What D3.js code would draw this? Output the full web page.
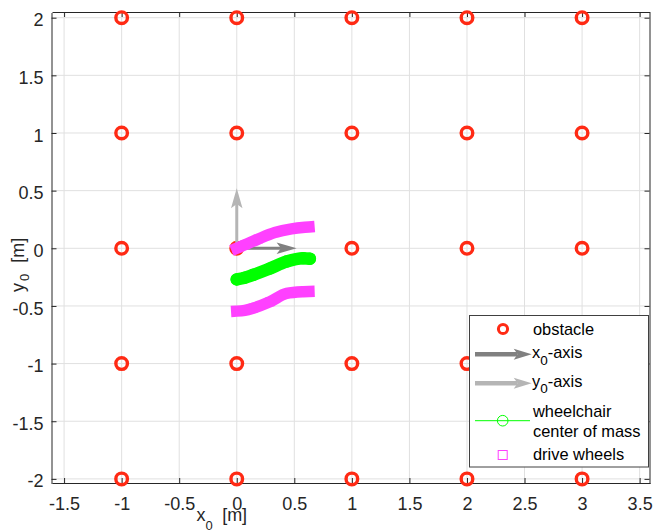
<!DOCTYPE html>
<html>
<head>
<meta charset="utf-8">
<script src="https://cdn.jsdelivr.net/npm/d3@7"></script>
<style>
body { margin: 0; background: #fff; }
text { font-family: "Liberation Sans", Arial, Helvetica, sans-serif; }
</style>
</head>
<body>
<div id="chart"></div>
<script>
// obstacle grid (every x with every y)
var obstacleX = [-1, 0, 1, 2, 3];
var obstacleY = [-2, -1, 0, 1, 2];

// wheelchair centre of mass path [m]
var comX = [0, 0.07, 0.143, 0.288, 0.433, 0.577, 0.635];
var comY = [-0.27, -0.255, -0.23, -0.175, -0.115, -0.087, -0.09];

// drive wheel paths [m]
var upperX = [0, 0.07, 0.186, 0.331, 0.476, 0.592, 0.627];
var upperY = [0.0, 0.03, 0.08, 0.136, 0.168, 0.182, 0.185];
var lowerX = [0, 0.07, 0.143, 0.288, 0.433, 0.577, 0.627];
var lowerY = [-0.545, -0.538, -0.519, -0.464, -0.392, -0.377, -0.375];

// body frame axes drawn at the origin
var axisU = [0.52, 0];
var axisV = [0, 0.52];

var xTicks = [-1.5, -1, -0.5, 0, 0.5, 1, 1.5, 2, 2.5, 3, 3.5];
var yTicks = [-2, -1.5, -1, -0.5, 0, 0.5, 1, 1.5, 2];

var width = 653;
var height = 531;
var plot = { left: 52, right: 650, top: 12.5, bottom: 483.5 };

var colors = {
    obstacle: "#ff2a14",
    xAxis: "#808080",
    yAxis: "#b5b5b5",
    com: "#00ff00",
    wheels: "#ff40ff",
    text: "#262626",
    grid: "#e0e0e0"
};

var svg = d3.select("#chart")
    .append("svg")
    .attr("width", width)
    .attr("height", height)

var x = d3.scaleLinear().domain([-1.605, 3.59]).range([plot.left, plot.right]);
var y = d3.scaleLinear().domain([-2.04, 2.045]).range([plot.bottom, plot.top]);

/*
    grid lines
*/
var grid = svg.append("g")
grid.selectAll(".gx")
    .data(xTicks)
    .enter().append("line")
    .attr("x1", d => x(d)).attr("x2", d => x(d))
    .attr("y1", plot.top).attr("y2", plot.bottom)
    .attr("stroke", colors.grid)
grid.selectAll(".gy")
    .data(yTicks)
    .enter().append("line")
    .attr("y1", d => y(d)).attr("y2", d => y(d))
    .attr("x1", plot.left).attr("x2", plot.right)
    .attr("stroke", colors.grid)

/*
    axes, ticks pointing inward, box on
*/
function styleAxis(g) {
    g.attr("font-family", "Liberation Sans, Arial, sans-serif")
        .attr("font-size", 18)
    g.select(".domain").attr("stroke", colors.text)
    g.selectAll(".tick line").attr("stroke", colors.text)
    g.selectAll(".tick text").attr("fill", colors.text)
}

svg.append("g")
    .attr("transform", "translate(0," + (plot.bottom - 0.5) + ")")
    .call(d3.axisBottom(x).tickValues(xTicks).tickSize(-5).tickSizeOuter(0)
        .tickPadding(14.5).tickFormat(d => String(d)))
    .call(styleAxis)

svg.append("g")
    .attr("transform", "translate(0," + (plot.top - 0.5) + ")")
    .call(d3.axisTop(x).tickValues(xTicks).tickSize(-5).tickSizeOuter(0).tickFormat(""))
    .call(styleAxis)

svg.append("g")
    .attr("transform", "translate(" + (plot.left - 0.5) + ",0)")
    .call(d3.axisLeft(y).tickValues(yTicks).tickSize(-5).tickSizeOuter(0)
        .tickPadding(8).tickFormat(d => String(d)))
    .call(styleAxis)
    .selectAll(".tick text").attr("dy", "0.45em")

svg.append("g")
    .attr("transform", "translate(" + (plot.right - 0.5) + ",0)")
    .call(d3.axisRight(y).tickValues(yTicks).tickSize(-5).tickSizeOuter(0).tickFormat(""))
    .call(styleAxis)

/*
    axis labels with subscript 0
*/
var xLabel = svg.append("text")
    .attr("x", 196.5)
    .attr("y", 521)
    .attr("font-size", 18)
    .attr("fill", colors.text)
xLabel.append("tspan").text("x")
xLabel.append("tspan").attr("dy", 9).attr("font-size", 13).text("0")
xLabel.append("tspan").attr("dy", -9).attr("dx", 4.4).text(" [m]")

var yLabel = svg.append("text")
    .attr("transform", "translate(24,292) rotate(-90)")
    .attr("font-size", 18)
    .attr("fill", colors.text)
yLabel.append("tspan").text("y")
yLabel.append("tspan").attr("dy", 5).attr("dx", 2).attr("font-size", 13).text("0")
yLabel.append("tspan").attr("dy", -5).attr("dx", 6).text(" [m]")

/*
    obstacles
*/
var obstacles = []
obstacleX.forEach(function (ox) {
    obstacleY.forEach(function (oy) {
        obstacles.push([ox, oy])
    })
})

svg.selectAll(".obstacle")
    .data(obstacles)
    .enter().append("circle")
    .attr("class", "obstacle")
    .attr("cx", d => x(d[0]))
    .attr("cy", d => y(d[1]))
    .attr("r", 5.8)
    .attr("fill", "none")
    .attr("stroke", colors.obstacle)
    .attr("stroke-width", 3.4)

/*
    arrow helper: shaft + notched head
*/
function arrow(g, x1, y1, x2, y2, color, shaft, headLen, headW) {
    var ang = Math.atan2(y2 - y1, x2 - x1)
    var c = Math.cos(ang), s = Math.sin(ang)
    var bx = x2 - headLen * c, by = y2 - headLen * s
    var nx = x2 - headLen * 0.78 * c, ny = y2 - headLen * 0.78 * s
    g.append("line")
        .attr("x1", x1).attr("y1", y1)
        .attr("x2", nx).attr("y2", ny)
        .attr("stroke", color)
        .attr("stroke-width", shaft)
    g.append("path")
        .attr("d", "M" + x2 + "," + y2 +
            "L" + (bx - headW / 2 * s) + "," + (by + headW / 2 * c) +
            "L" + nx + "," + ny +
            "L" + (bx + headW / 2 * s) + "," + (by - headW / 2 * c) + "Z")
        .attr("fill", color)
}

var arrows = svg.append("g")
arrow(arrows, x(0), y(0), x(axisU[0]), y(axisU[1]), colors.xAxis, 3, 20, 11.5)
arrow(arrows, x(0), y(0), x(axisV[0]), y(axisV[1]), colors.yAxis, 3, 20, 11.5)

/*
    paths: densely packed markers look like a thick band
*/
var line = d3.line()
    .x(d => x(d[0]))
    .y(d => y(d[1]))
    .curve(d3.curveMonotoneX)

var com = d3.zip(comX, comY)
var upper = d3.zip(upperX, upperY)
var lower = d3.zip(lowerX, lowerY)

svg.append("path")
    .attr("d", line(com))
    .attr("fill", "none")
    .attr("stroke", colors.com)
    .attr("stroke-width", 12.5)
    .attr("stroke-linecap", "round")
svg.selectAll(".com")
    .data(com)
    .enter().append("circle")
    .attr("class", "com")
    .attr("cx", d => x(d[0]))
    .attr("cy", d => y(d[1]))
    .attr("r", 5)
    .attr("fill", "none")
    .attr("stroke", colors.com)
    .attr("stroke-width", 2.5)

;[upper, lower].forEach(function (wheel) {
    svg.selectAll(null)
        .data(wheel)
        .enter().append("rect")
        .attr("x", d => x(d[0]) - 3.5)
        .attr("y", d => y(d[1]) - 3.5)
        .attr("width", 7)
        .attr("height", 7)
        .attr("fill", "none")
        .attr("stroke", colors.wheels)
        .attr("stroke-width", 2)
    svg.append("path")
        .attr("d", line(wheel))
        .attr("fill", "none")
        .attr("stroke", colors.wheels)
        .attr("stroke-width", 11.5)
        .attr("stroke-linecap", "square")
})

/*
    legend
*/
var legend = svg.append("g")
legend.append("rect")
    .attr("x", 469.5).attr("y", 315.5)
    .attr("width", 179).attr("height", 151.5)
    .attr("fill", "#fff")
    .attr("stroke", "#404040")
    .attr("stroke-width", 1)

var lx = 533
legend.append("circle")
    .attr("cx", 503).attr("cy", 329).attr("r", 4.6)
    .attr("fill", "none").attr("stroke", colors.obstacle).attr("stroke-width", 3)
legend.append("text").attr("x", lx).attr("y", 335).attr("font-size", 16.4).text("obstacle")

arrow(legend, 475, 354.3, 531.7, 354.3, colors.xAxis, 4.5, 18, 11)
var t1 = legend.append("text").attr("x", lx - 1).attr("y", 358.3).attr("font-size", 16.4)
t1.append("tspan").text("x")
t1.append("tspan").attr("dy", 6.7).attr("font-size", 13.5).text("0")
t1.append("tspan").attr("dy", -6.7).text("-axis")

arrow(legend, 475, 383.3, 531.7, 383.3, colors.yAxis, 4.5, 18, 11)
var t2 = legend.append("text").attr("x", lx - 1).attr("y", 386.7).attr("font-size", 16.4)
t2.append("tspan").text("y")
t2.append("tspan").attr("dy", 6.7).attr("font-size", 13.5).text("0")
t2.append("tspan").attr("dy", -6.7).text("-axis")

legend.append("line")
    .attr("x1", 475).attr("x2", 530).attr("y1", 420.7).attr("y2", 420.7)
    .attr("stroke", colors.com).attr("stroke-width", 1)
legend.append("circle")
    .attr("cx", 502.7).attr("cy", 420.7).attr("r", 5.3)
    .attr("fill", "none").attr("stroke", colors.com).attr("stroke-width", 1)
legend.append("text").attr("x", lx).attr("y", 416.7).attr("font-size", 16.4).text("wheelchair")
legend.append("text").attr("x", lx).attr("y", 436.7).attr("font-size", 16.4).text("center of mass")

legend.append("rect")
    .attr("x", 498.2).attr("y", 450.5).attr("width", 9).attr("height", 9)
    .attr("fill", "none").attr("stroke", colors.wheels).attr("stroke-width", 1)
legend.append("text").attr("x", lx).attr("y", 460).attr("font-size", 16.4).text("drive wheels")
</script>
</body>
</html>
